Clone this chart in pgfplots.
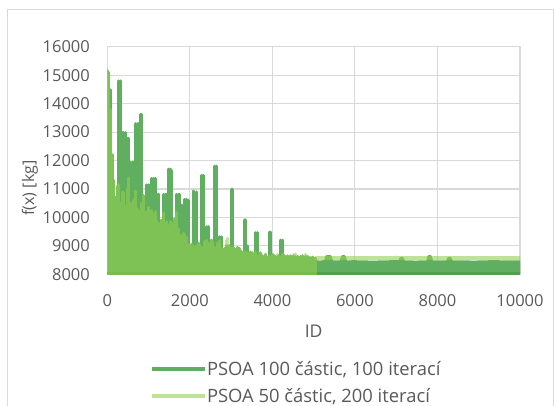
\documentclass[border=0pt]{standalone}
\usepackage{fontspec}
\setmainfont{Open Sans}
\usepackage{pgfplots}
\pgfplotsset{compat=1.18}
\definecolor{darkg}{RGB}{96,174,96}
\definecolor{darkerg}{RGB}{80,160,80}
\definecolor{lightg}{RGB}{146,208,80}
\definecolor{lightleg}{RGB}{190,227,150}
\definecolor{gridc}{RGB}{217,217,217}
\definecolor{txt}{RGB}{89,89,89}
\begin{document}
\begin{tikzpicture}[x=1bp,y=1bp]
\useasboundingbox (0,0) rectangle (554,405);
\draw[gridc, line width=1bp] (7.3,-2) -- (7.3,395.7) -- (553.3,395.7) -- (553.3,-2);
\begin{axis}[
  at={(107.3bp,130.7bp)}, anchor=south west, scale only axis,
  width=412.7bp, height=227.6bp,
  xmin=0, xmax=10000, ymin=8000, ymax=16000,
  xtick={0,2000,...,10000}, ytick={8000,9000,...,16000},
  scaled ticks=false,
  /pgf/number format/1000 sep={},
  /pgf/number format/assume math mode=true,
  axis line style={draw=gridc, line width=1.1bp},
  grid=major, major grid style={draw=gridc, line width=1.1bp},
  major tick length=0pt, tick style={draw=none},
  tick label style={font=\fontsize{16.5bp}{19bp}\selectfont, text=txt, inner sep=0pt},
  xticklabel style={anchor=north, yshift=-19.7bp},
  yticklabel style={anchor=east, xshift=-17.3bp},
  xlabel={ID},
  xlabel style={at={(axis description cs:0.4999,-0.249)}, anchor=center, font=\fontsize{17.5bp}{20bp}\selectfont, text=txt, inner sep=0pt},
  ylabel={f(x) [kg]},
  ylabel style={at={(axis description cs:-0.1873,0.3792)}, anchor=center, rotate=0, font=\fontsize{16bp}{19bp}\selectfont, text=txt, inner sep=0pt},
  legend style={at={(axis description cs:0.1035,-0.3827)}, anchor=north west, draw=none, fill=none, inner sep=0pt, outer sep=0pt, row sep=11bp, font=\fontsize{18.4bp}{22bp}\selectfont, text=txt, nodes={inner sep=0pt}, /tikz/every even column/.append style={column sep=5.5bp}},
  legend cell align=left,
  legend image code/.code={\draw[#1] (0bp,0bp) -- (53bp,0bp);},
]
% dark series: PSOA 100 castic, 100 iteraci (first half, dense oscillation)
\addplot[forget plot, ycomb, draw=darkg, line width=3bp, line cap=round] coordinates {
(0,15150) (40,15100) (80,14480) (120,12200) (160,11300) (200,10700) (240,11100)
(280,14800) (320,14800) (360,12980) (400,12980) (440,12980) (480,12780) (520,12780)
(560,11935) (600,11935) (640,11935) (680,13300) (720,13300) (760,13300) (800,13620) (840,13620)
(880,10770) (920,10150) (960,11140) (1000,11140) (1040,11140) (1080,11375) (1120,11375) (1160,11375)
(1200,10820) (1240,10820) (1280,9600) (1320,9900) (1360,10810) (1400,10810) (1440,10810)
(1480,11700) (1520,11700) (1560,11650) (1600,9750) (1640,9950) (1680,10810) (1720,10810) (1760,10810)
(1800,10435) (1840,10435) (1880,10635) (1920,10635) (1960,10600) (2000,8950) (2040,9050)
(2080,10930) (2120,10800) (2160,10900) (2200,9100) (2240,9050)
(2280,11480) (2320,11480) (2360,9150) (2400,9675) (2440,9675) (2480,9000) (2520,9200) (2560,9150)
(2600,11800) (2640,11800) (2680,9100) (2720,9320) (2760,9320) (2800,8850) (2840,8900)
(2880,9000) (2920,9000) (2960,9000) (3000,10985) (3040,10985) (3080,8900)
(3120,8850) (3160,8950) (3200,8900) (3240,8800) (3280,8750) (3320,9910) (3360,9910) (3400,9000)
(3440,8700) (3480,8780) (3520,8750) (3560,8700) (3600,9465) (3640,9465) (3680,8700)
(3720,8750) (3760,8650) (3800,8620) (3840,8700) (3880,8600) (3920,9480) (3960,9480)
(4000,8700) (4040,8650) (4080,8600) (4120,8620) (4160,8650) (4200,9205) (4240,9205)
(4280,8680) (4320,8620) (4360,8650) (4400,8600) (4440,8650) (4480,8600) (4520,8650)
(4560,8620) (4600,8620) (4640,8600) (4680,8620) (4720,8650) (4760,8600) (4800,8620)
(4840,8620) (4880,8600) (4920,8580) (4960,8600) (5000,8580) (5040,8560)
};
% dark series, second half: oscillation band below about 8490
\addplot[forget plot, fill=darkg, draw=darkg, line width=3bp, line join=round] coordinates {
(5060,8440) (5160,8430) (5240,8445) (5280,8445) (5320,8625) (5400,8625) (5440,8440)
(5560,8435) (5660,8440) (5700,8625) (5740,8625) (5780,8430) (5960,8445) (6200,8435)
(6440,8430) (6680,8435) (6920,8445) (7080,8440) (7110,8560) (7150,8560) (7180,8440)
(7480,8430) (7720,8440) (7760,8440) (7790,8625) (7830,8625) (7860,8440) (8120,8440)
(8240,8435) (8270,8560) (8310,8560) (8340,8440) (8600,8440) (8840,8430) (9080,8435)
(9320,8445) (9560,8440) (9800,8440) (10000,8440)
} \closedcycle;
\addplot[forget plot, draw=darkerg, line width=5bp] coordinates {(0,8000) (10000,8000)};
% light series: PSOA 50 castic, 200 iteraci
\addplot[forget plot, ycomb, draw=lightg, opacity=0.6, line width=3bp, line cap=round] coordinates {
(0,15150) (40,15100) (80,13800) (120,12200) (160,11300) (200,10700) (240,11100) (280,11150)
(320,10500) (360,10900) (400,10850) (440,10400) (480,11000) (520,11380) (560,10500) (600,10450)
(640,10600) (680,10930) (720,10300) (760,10250) (800,10200) (840,10500) (880,10770) (920,10150)
(960,10200) (1000,10350) (1040,10000) (1080,10250) (1120,10100) (1160,10200) (1200,9900) (1240,9800)
(1280,9600) (1320,9900) (1360,10150) (1400,9800) (1440,9850) (1480,9700) (1520,9850) (1560,9800)
(1600,9750) (1640,9950) (1680,10170) (1720,9600) (1760,9400) (1800,9350) (1840,9450) (1880,9400)
(1920,9300) (1960,9050) (2000,8950) (2040,9050) (2080,9000) (2120,8900) (2160,9000) (2200,9100)
(2240,9050) (2280,8950) (2320,8900) (2360,9150) (2400,9200) (2440,9100) (2480,9000) (2520,9200)
(2560,9150) (2600,8950) (2640,8900) (2680,9100) (2720,9180) (2760,8900) (2800,8850) (2840,8900)
(2880,9200) (2920,9260) (2960,9000) (3000,8900) (3040,8950) (3080,8900) (3120,8850) (3160,8950)
(3200,8900) (3240,8800) (3280,8750) (3320,8800) (3360,8780) (3400,8750) (3440,8700) (3480,8780)
(3520,8750) (3560,8700) (3600,8780) (3640,8650) (3680,8700) (3720,8750) (3760,8650) (3800,8620)
(3840,8700) (3880,8600) (3920,8650) (3960,8600) (4000,8700) (4040,8650) (4080,8600) (4120,8700)
(4160,8650) (4200,8600) (4240,8700) (4280,8680) (4320,8620) (4360,8650) (4400,8600) (4440,8650)
(4480,8600) (4520,8700) (4560,8720) (4600,8620) (4640,8600) (4680,8620) (4720,8650) (4760,8600)
(4800,8700) (4840,8620) (4880,8600) (4920,8580) (4960,8600) (5000,8580) (5040,8560)
};
\addplot[forget plot, draw=lightg, opacity=0.6, line width=4bp] coordinates {
(5040,8570) (5400,8575) (5800,8565) (6200,8572) (6600,8566) (7000,8574) (7400,8568)
(7800,8572) (8200,8565) (8600,8573) (9000,8567) (9400,8572) (9800,8566) (10000,8570)
};
\addlegendimage{line width=4bp, color=darkg}
\addlegendentry{PSOA 100 částic, 100 iterací}
\addlegendimage{line width=4bp, color=lightleg}
\addlegendentry{PSOA 50 částic, 200 iterací}
\end{axis}
\end{tikzpicture}
\end{document}
